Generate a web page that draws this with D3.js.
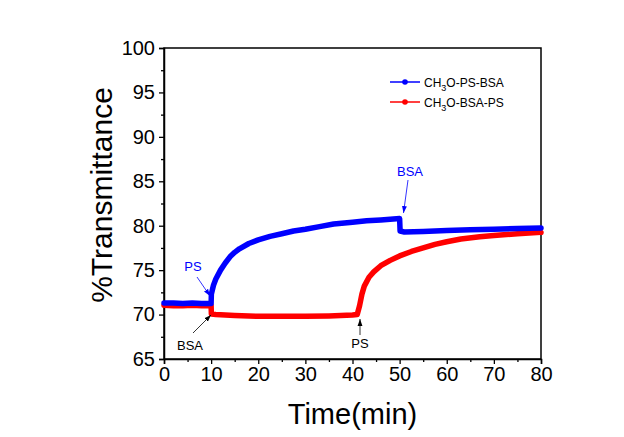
<!DOCTYPE html>
<html>
<head>
<meta charset="utf-8">
<script src="https://cdn.jsdelivr.net/npm/d3@7"></script>
<style>
  body { margin: 0; background: #fff; }
  svg { display: block; font-family: "Liberation Sans", Arial, sans-serif; }
</style>
</head>
<body>
<div id="chart"></div>
<script>
// CH3O-PS-BSA (blue)
const blueTime = [0, 2, 4, 6, 8, 10, 10.05, 10.5, 11, 12, 13, 14, 15, 16, 18, 20, 22.5, 25, 27.5, 30, 33, 36, 40, 43, 46, 50, 50.1, 51, 55, 60, 65, 70, 75, 80];
const blueValue = [71.3, 71.3, 71.25, 71.3, 71.25, 71.25, 72.3, 73.3, 74.0, 75.0, 75.8, 76.5, 77.0, 77.4, 78.0, 78.4, 78.8, 79.1, 79.4, 79.6, 79.9, 80.2, 80.4, 80.55, 80.65, 80.8, 79.4, 79.3, 79.35, 79.45, 79.55, 79.6, 79.7, 79.75];

// CH3O-BSA-PS (red)
const redTime = [0, 2, 4, 6, 8, 10, 10.05, 11, 15, 20, 25, 30, 35, 40, 41, 41.5, 42, 42.5, 43.5, 44.5, 46, 48, 50, 52.5, 55, 57.5, 60, 63, 67, 70, 75, 80];
const redValue = [71.05, 71.0, 71.0, 71.05, 71.0, 71.0, 70.05, 70.0, 69.9, 69.8, 69.8, 69.8, 69.85, 69.95, 70.0, 71.0, 72.3, 73.2, 74.2, 74.8, 75.5, 76.1, 76.6, 77.1, 77.5, 77.9, 78.2, 78.5, 78.75, 78.9, 79.1, 79.25];

const xTicks = [0, 10, 20, 30, 40, 50, 60, 70, 80];
const yTicks = [65, 70, 75, 80, 85, 90, 95, 100];

const seriesNames = ["CH3O-PS-BSA", "CH3O-BSA-PS"];
const seriesColors = ["#0000ff", "#ff0000"];

// annotations: label and colour
const notes = [
  { label: "PS", color: "#0000ff" },
  { label: "BSA", color: "#000" },
  { label: "BSA", color: "#0000ff" },
  { label: "PS", color: "#000" }
];

const width = 624, height = 437;
const margin = { top: 48, right: 83, bottom: 78, left: 164 };
const innerW = width - margin.left - margin.right;
const innerH = height - margin.top - margin.bottom;

const svg = d3.select("#chart").append("svg").attr("width", width).attr("height", height);

svg.append("defs").selectAll("marker")
  .data([["arrowBlue", "#0000ff"], ["arrowBlack", "#000"]])
  .enter().append("marker")
  .attr("id", d => d[0])
  .attr("viewBox", "0 0 10 10")
  .attr("refX", 10).attr("refY", 5)
  .attr("markerWidth", 7).attr("markerHeight", 7)
  .attr("markerUnits", "userSpaceOnUse")
  .attr("orient", "auto")
  .append("path").attr("d", "M0,1.5 L10,5 L0,8.5 Z").attr("fill", d => d[1]);

const g = svg.append("g").attr("transform", `translate(${margin.left},${margin.top})`);

const x = d3.scaleLinear().domain([0, 80]).range([0, innerW]);
const y = d3.scaleLinear().domain([65, 100]).range([innerH, 0]);

// frame
g.append("rect").attr("width", innerW).attr("height", innerH)
  .attr("fill", "none").attr("stroke", "#000").attr("stroke-width", 1.5);

g.append("g").attr("transform", `translate(0,${innerH})`)
  .call(d3.axisBottom(x).tickValues(xTicks).tickSize(5).tickPadding(3));
g.append("g").attr("transform", `translate(0,${innerH})`)
  .call(d3.axisBottom(x).tickValues(d3.range(5, 80, 10)).tickSize(3).tickFormat(""))
  .call(a => a.select(".domain").remove());

g.append("g")
  .call(d3.axisLeft(y).tickValues(yTicks).tickSize(5).tickPadding(4));
g.append("g")
  .call(d3.axisLeft(y).tickValues(d3.range(67.5, 100, 5)).tickSize(3).tickFormat(""))
  .call(a => a.select(".domain").remove());

svg.selectAll(".domain").attr("stroke", "#000").attr("stroke-width", 1.5);
svg.selectAll(".tick line").attr("stroke", "#000").attr("stroke-width", 1.3);
svg.selectAll(".tick text").attr("font-size", 20).attr("fill", "#000")
  .attr("font-family", "Liberation Sans, Arial, sans-serif");

// lines
const line = d3.line().x(d => x(d[0])).y(d => y(d[1]));
const series = [d3.zip(blueTime, blueValue), d3.zip(redTime, redValue)];

// red underneath, blue on top
[1, 0].forEach(i => {
  g.append("path").datum(series[i])
    .attr("d", line)
    .attr("fill", "none")
    .attr("stroke", seriesColors[i])
    .attr("stroke-width", 5.5)
    .attr("stroke-linejoin", "round")
    .attr("stroke-linecap", "round");
});

// annotations (text position, arrow from -> to)
const noteLayout = [
  { tx: 193, ty: 271, x1: 197, y1: 277, x2: 210, y2: 296 },
  { tx: 190, ty: 350, x1: 193, y1: 333, x2: 211, y2: 315 },
  { tx: 410, ty: 176, x1: 408, y1: 180, x2: 403.5, y2: 213 },
  { tx: 360, ty: 348, x1: 360, y1: 335, x2: 360, y2: 319 }
];
notes.forEach((n, i) => {
  const p = noteLayout[i];
  svg.append("text").attr("x", p.tx).attr("y", p.ty)
    .attr("text-anchor", "middle").attr("font-size", 13).attr("fill", n.color)
    .text(n.label);
  svg.append("line")
    .attr("x1", p.x1).attr("y1", p.y1).attr("x2", p.x2).attr("y2", p.y2)
    .attr("stroke", n.color).attr("stroke-width", 0.8)
    .attr("marker-end", n.color === "#000" ? "url(#arrowBlack)" : "url(#arrowBlue)");
});

// legend
const legend = svg.append("g").attr("transform", "translate(390,82)");
seriesNames.forEach((name, i) => {
  const row = legend.append("g").attr("transform", `translate(0,${i * 20})`);
  row.append("line").attr("x1", 0).attr("x2", 30).attr("y1", 0).attr("y2", 0)
    .attr("stroke", seriesColors[i]).attr("stroke-width", 1.5);
  row.append("circle").attr("cx", 15).attr("cy", 0).attr("r", 2.8).attr("fill", seriesColors[i]);
  const t = row.append("text").attr("x", 34).attr("y", 4.5).attr("font-size", 12).attr("fill", "#000");
  const parts = name.split("3");
  t.append("tspan").text(parts[0]);
  t.append("tspan").attr("dy", 4).attr("font-size", 9).text("3");
  t.append("tspan").attr("dy", -4).text(parts[1]);
});

// axis titles
svg.append("text").attr("x", margin.left + innerW / 2).attr("y", 424)
  .attr("text-anchor", "middle").attr("font-size", 29).attr("fill", "#000")
  .text("Time(min)");
svg.append("text")
  .attr("transform", "translate(112,195) rotate(-90)")
  .attr("text-anchor", "middle").attr("font-size", 30).attr("fill", "#000")
  .text("%Transmittance");
</script>
</body>
</html>
